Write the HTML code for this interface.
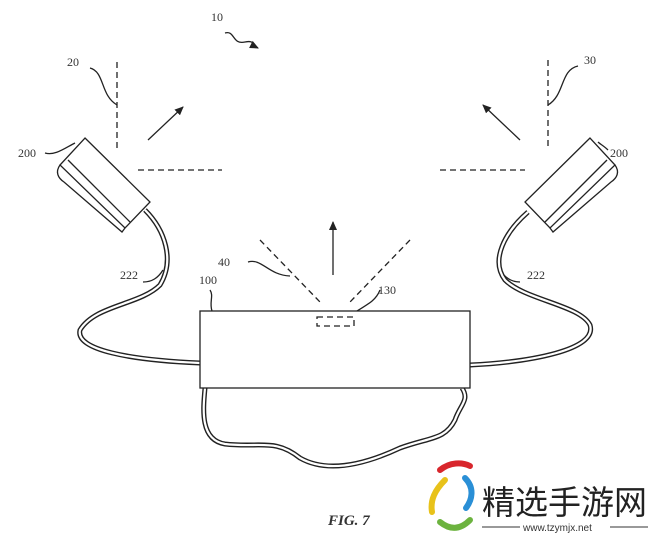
<!DOCTYPE html>
<html><head><meta charset="utf-8"><style>
html,body{margin:0;padding:0;background:#fff;width:660px;height:540px;overflow:hidden}
svg{display:block}
text{font-family:"Liberation Serif",serif;fill:#333;font-size:12px}
</style></head><body>
<svg width="660" height="540" viewBox="0 0 660 540" xmlns="http://www.w3.org/2000/svg">
<defs><marker id="a" markerWidth="10" markerHeight="10" refX="8" refY="5" orient="auto" markerUnits="userSpaceOnUse"><path d="M0,1 L9,5 L0,9 Z" fill="#222"/></marker></defs>
<g stroke="#222" fill="none" stroke-width="1.3">
<g stroke-dasharray="6,4">
<line x1="117" y1="62" x2="117" y2="148"/><line x1="138" y1="170" x2="222" y2="170"/>
<line x1="548" y1="60" x2="548" y2="148"/><line x1="440" y1="170" x2="525" y2="170"/>
<line x1="260" y1="240" x2="320" y2="302"/><line x1="410" y1="240" x2="350" y2="302"/>
</g>
<line x1="148" y1="140" x2="183" y2="107" marker-end="url(#a)"/>
<line x1="520" y1="140" x2="483" y2="105" marker-end="url(#a)"/>
<line x1="333" y1="275" x2="333" y2="222" marker-end="url(#a)"/>
<path d="M225,33 C235,30 232,45 245,42 C255,40 252,45 258,48" marker-end="url(#a)"/>
<path d="M90,68 C105,72 100,95 117,105"/>
<path d="M578,66 C560,70 565,95 548,105"/>
<path d="M45,153 C55,156 65,148 75,143"/>
<path d="M608,150 C604,146 600,144 598,142"/>
<path d="M248,262 C262,258 268,275 290,276"/>
<path d="M210,290 C214,296 209,302 212,311"/>
<path d="M380,290 C376,300 370,303 352,314"/>
<path d="M143,282 C152,282 158,278 163,270"/>
<path d="M520,282 C512,282 505,278 500,270"/>
<path d="M85,138 L150,202 L125,228 L60,165 Z" fill="#fff"/>
<path d="M60,165 C55,172 58,178 64,182 L122,232 L125,228"/>
<line x1="68" y1="160" x2="130" y2="222"/>
<g transform="translate(12,0)">
<path d="M578,138 L513,202 L538,228 L603,165 Z" fill="#fff"/>
<path d="M603,165 C608,172 605,178 599,182 L541,232 L538,228"/>
<line x1="595" y1="160" x2="533" y2="222"/>
</g>
<g stroke-width="5"><path d="M145,210 C165,230 175,260 160,285 C140,305 95,305 80,330 C75,350 130,360 200,363"/>
<path d="M528,212 C505,232 490,260 505,280 C525,300 580,305 590,325 C598,350 530,362 470,365"/>
<path d="M205,388 C203,410 200,440 225,444 C260,448 275,438 300,458 C330,475 370,462 400,448 C430,437 445,440 455,420 C460,405 470,400 462,388"/></g>
<g stroke="#fff" stroke-width="2.2"><path d="M145,210 C165,230 175,260 160,285 C140,305 95,305 80,330 C75,350 130,360 200,363"/>
<path d="M528,212 C505,232 490,260 505,280 C525,300 580,305 590,325 C598,350 530,362 470,365"/>
<path d="M205,388 C203,410 200,440 225,444 C260,448 275,438 300,458 C330,475 370,462 400,448 C430,437 445,440 455,420 C460,405 470,400 462,388"/></g>
<rect x="200" y="311" width="270" height="77" fill="#fff"/>
<rect x="317" y="317" width="37" height="9" stroke-dasharray="6,4"/>
</g>
<text x="211" y="21">10</text><text x="67" y="66">20</text><text x="584" y="64">30</text>
<text x="18" y="157">200</text><text x="610" y="157">200</text>
<text x="120" y="279">222</text><text x="527" y="279">222</text>
<text x="218" y="266">40</text><text x="199" y="284">100</text><text x="378" y="294">130</text>
<text x="328" y="525" style="font-weight:bold;font-style:italic;font-size:15px">FIG. 7</text>
<g stroke-width="6" fill="none" stroke-linecap="round">
<path d="M445,480 C435,490 430,500 432,512" stroke="#e8c21a"/>
<path d="M440,470 C450,462 462,462 470,466" stroke="#d8262c"/>
<path d="M465,478 C475,488 472,500 466,508" stroke="#2a8fd6"/>
<path d="M440,522 C450,530 460,530 470,520" stroke="#6cb33f"/>
</g>
<text x="482" y="514" style="font-family:'Noto Sans CJK SC',sans-serif;font-size:33px;fill:#222">精选手游网</text>
<line x1="482" y1="527" x2="520" y2="527" stroke="#333"/><line x1="610" y1="527" x2="648" y2="527" stroke="#333"/>
<text x="523" y="531" style="font-family:'Liberation Sans',sans-serif;font-size:10px;fill:#333">www.tzymjx.net</text>
</svg>
</body></html>
